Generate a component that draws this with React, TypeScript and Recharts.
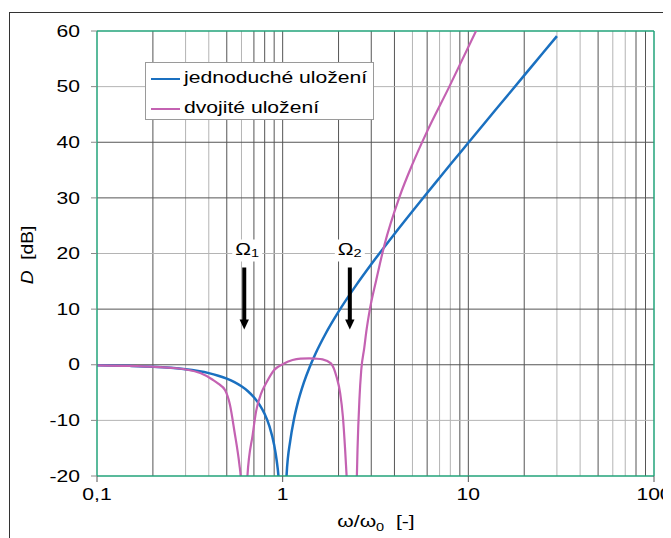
import React from 'react'
import { LineChart, Line, XAxis, YAxis, ReferenceLine, ReferenceDot, Legend, Label } from 'recharts'

const FONT = '"Liberation Sans", Arial, sans-serif'
const STRETCH = 1.32
const GREEN = '#22a37a'
const DARK = '#555555'
const LIGHT = '#b4b4b4'

const seriesNames = ['jednoduché uložení', 'dvojité uložení']
const seriesColors = ['#1a70c0', '#c462b2']

// jednoduché uložení
const singleFreq = [0.1, 0.15, 0.2, 0.25, 0.3, 0.35, 0.4, 0.45, 0.5, 0.55, 0.6, 0.65, 0.7, 0.75, 0.8, 0.85, 0.9, 0.93, 0.95, 1.0, 1.05, 1.1, 1.15, 1.2, 1.3, 1.4, 1.5, 1.7, 2, 2.5, 3, 4, 5, 6, 7, 8, 10, 12, 15, 20, 25, 30]
const singleDb = [-0.09, -0.2, -0.35, -0.56, -0.82, -1.14, -1.51, -1.97, -2.5, -3.13, -3.88, -4.77, -5.85, -7.18, -8.87, -11.13, -14.42, -17.39, -20.2, -40, -19.8, -13.56, -9.83, -7.13, -3.22, -0.35, 1.94, 5.53, 9.54, 14.4, 18.06, 23.52, 27.6, 30.88, 33.62, 35.99, 39.91, 43.11, 47.0, 52.02, 55.9, 59.08]

// dvojité uložení
const doubleFreq = [0.1, 0.15, 0.2, 0.25, 0.3, 0.36, 0.42, 0.45, 0.49, 0.52, 0.55, 0.585, 0.594, 0.62, 0.646, 0.69, 0.72, 0.765, 0.815, 0.9, 1.0, 1.13, 1.25, 1.39, 1.5, 1.64, 1.82, 1.95, 2.04, 2.11, 2.17, 2.21, 2.36, 2.51, 2.53, 2.59, 2.65, 2.75, 2.82, 2.95, 3.19, 3.53, 4.26, 5.02, 5.93, 7.9, 11.0]
const doubleDb = [-0.1, -0.2, -0.35, -0.55, -0.85, -1.5, -2.7, -3.4, -4.6, -7.2, -12, -18, -20, -35, -20, -12.5, -8.3, -5.2, -3.3, -0.94, 0.1, 0.85, 1.1, 1.16, 1.1, 0.97, 0.25, -2.15, -5.1, -9.3, -15.3, -20, -35, -20, -15.3, -6.3, -0.94, 3.0, 5.9, 10, 15.2, 21.5, 30.2, 36.2, 41.6, 50, 60]

const xTicks = [0.1, 1, 10, 100]
const yTicks = [-20, -10, 0, 10, 20, 30, 40, 50, 60]
const gridX = [0.2, 0.3, 0.4, 0.5, 0.6, 0.7, 0.8, 0.9, 1, 2, 3, 4, 5, 6, 7, 8, 9, 10, 20, 30, 40, 50, 60, 70, 80, 90]
const lightGridX = [0.3, 0.4, 0.6, 5, 7, 8, 30, 40, 60, 70]
const gridY = [-10, 0, 10, 20, 30, 40, 50]
const lightGridY = [-10, 20, 50]

// rezonance
const omegaFreq = [0.621, 2.3]
const omegaSub = ['1', '2']
const omegaShift = [-9, -12]

const singleData = singleFreq.map((r, i) => ({ r, d: singleDb[i] }))
const doubleData = doubleFreq.map((r, i) => ({ r, d: doubleDb[i] }))

const XTick = (props: any) => {
  const { x, y, payload } = props
  return (
    <g transform={`translate(${x},${y})`}>
      <text transform={`scale(${STRETCH},1)`} textAnchor="middle" dy={16} fontSize={16} fontFamily={FONT} fill="#000">
        {String(payload.value).replace('.', ',')}
      </text>
    </g>
  )
}

const YTick = (props: any) => {
  const { x, y, payload } = props
  return (
    <g transform={`translate(${x},${y})`}>
      <text transform={`scale(${STRETCH},1)`} textAnchor="end" dy={5.7} fontSize={16} fontFamily={FONT} fill="#000">
        {payload.value}
      </text>
    </g>
  )
}

const XTitle = () => (
  <g transform="translate(368,519)">
    <text transform={`scale(${STRETCH},1)`} textAnchor="middle" fontSize={16} fontFamily={FONT} fill="#000">
      ω/ω<tspan fontSize={11} dy={4}>0</tspan>
      <tspan dy={-4}>{'\u00a0\u00a0[-]'}</tspan>
    </text>
  </g>
)

const YTitle = () => (
  <g transform="translate(25,247) rotate(-90)">
    <text transform="scale(1.2,1)" textAnchor="middle" fontSize={16} fontFamily={FONT} fill="#000">
      <tspan fontStyle="italic">D</tspan>
      {'\u00a0\u00a0[dB]'}
    </text>
  </g>
)

const Omega = (i: number) => (props: any) => {
  const { cx, cy } = props
  const tx = cx + omegaShift[i]
  return (
    <g>
      <rect x={tx - 3} y={cy - 14} width={30} height={22} fill="#fff" />
      <g transform={`translate(${tx},${cy + 1})`}>
        <text transform={`scale(${STRETCH},1)`} fontSize={16} fontFamily={FONT} fill="#000">
          Ω<tspan fontSize={11} dy={2}>{omegaSub[i]}</tspan>
        </text>
      </g>
      <rect x={cx - 2} y={cy + 14} width={4} height={54} fill="#000" />
      <polygon points={`${cx - 4.7},${cy + 66} ${cx + 4.7},${cy + 66} ${cx},${cy + 76}`} fill="#000" />
    </g>
  )
}

const LegendBox = () => (
  <div style={{ position: 'relative', width: 229, height: 58, border: '1px solid #9a9a9a', background: '#fff', boxSizing: 'border-box', fontFamily: FONT, fontSize: 16, color: '#000' }}>
    {seriesNames.map((name, i) => (
      <div key={name}>
        <div style={{ position: 'absolute', left: 5, top: 15 + 30 * i, width: 29, height: 2, background: seriesColors[i] }} />
        <div style={{ position: 'absolute', left: 38, top: 6 + 30 * i, lineHeight: '18px', whiteSpace: 'nowrap', transform: `scaleX(${STRETCH})`, transformOrigin: 'left center' }}>
          {name}
        </div>
      </div>
    ))}
  </div>
)

export default function App() {
  return (
    <div style={{ position: 'relative', width: 663, height: 530, overflow: 'hidden' }}>
      <div style={{ position: 'absolute', left: 1, top: 4, width: 720, height: 620, border: '1px solid #333' }} />
      <div style={{ position: 'absolute', left: 0, top: 0 }}>
        <LineChart width={663} height={530} margin={{ top: 23, right: 17, bottom: 0, left: 0 }}>
          <XAxis
            dataKey="r"
            type="number"
            scale="log"
            domain={[0.1, 100]}
            ticks={xTicks}
            allowDataOverflow
            height={62}
            axisLine={{ stroke: GREEN, strokeWidth: 1.5 }}
            tickLine={{ stroke: DARK }}
            tickSize={6}
            tickMargin={2}
            tick={<XTick />}
            interval={0}
          >
            <Label content={<XTitle />} />
          </XAxis>
          <YAxis
            type="number"
            domain={[-20, 60]}
            ticks={yTicks}
            allowDataOverflow
            width={89}
            axisLine={{ stroke: GREEN, strokeWidth: 1.5 }}
            tickLine={{ stroke: '#888' }}
            tickSize={6}
            tickMargin={11}
            tick={<YTick />}
            interval={0}
          >
            <Label content={<YTitle />} />
          </YAxis>
          {gridX.map((v) => (
            <ReferenceLine key={'x' + v} x={v} stroke={lightGridX.includes(v) ? LIGHT : DARK} strokeWidth={1} zIndex={-100} />
          ))}
          {gridY.map((v) => (
            <ReferenceLine key={'y' + v} y={v} stroke={lightGridY.includes(v) ? LIGHT : DARK} strokeWidth={1} zIndex={-100} />
          ))}
          <ReferenceLine y={60} stroke={GREEN} strokeWidth={1.5} zIndex={-90} />
          <ReferenceLine x={100} stroke={GREEN} strokeWidth={1.5} zIndex={-90} />
          <Legend
            layout="vertical"
            align="center"
            verticalAlign="middle"
            content={<LegendBox />}
            wrapperStyle={{ left: 137, top: 54, width: 'auto', height: 'auto' }}
          />
          <Line data={singleData} dataKey="d" name={seriesNames[0]} type="monotone" stroke={seriesColors[0]} strokeWidth={2.5} dot={false} activeDot={false} isAnimationActive={false} />
          <Line data={doubleData} dataKey="d" name={seriesNames[1]} type="monotone" stroke={seriesColors[1]} strokeWidth={2.2} dot={false} activeDot={false} isAnimationActive={false} />
          {omegaFreq.map((f, i) => (
            <ReferenceDot key={'o' + i} x={f} y={20} r={0} shape={Omega(i)} zIndex={700} />
          ))}
        </LineChart>
      </div>
    </div>
  )
}
